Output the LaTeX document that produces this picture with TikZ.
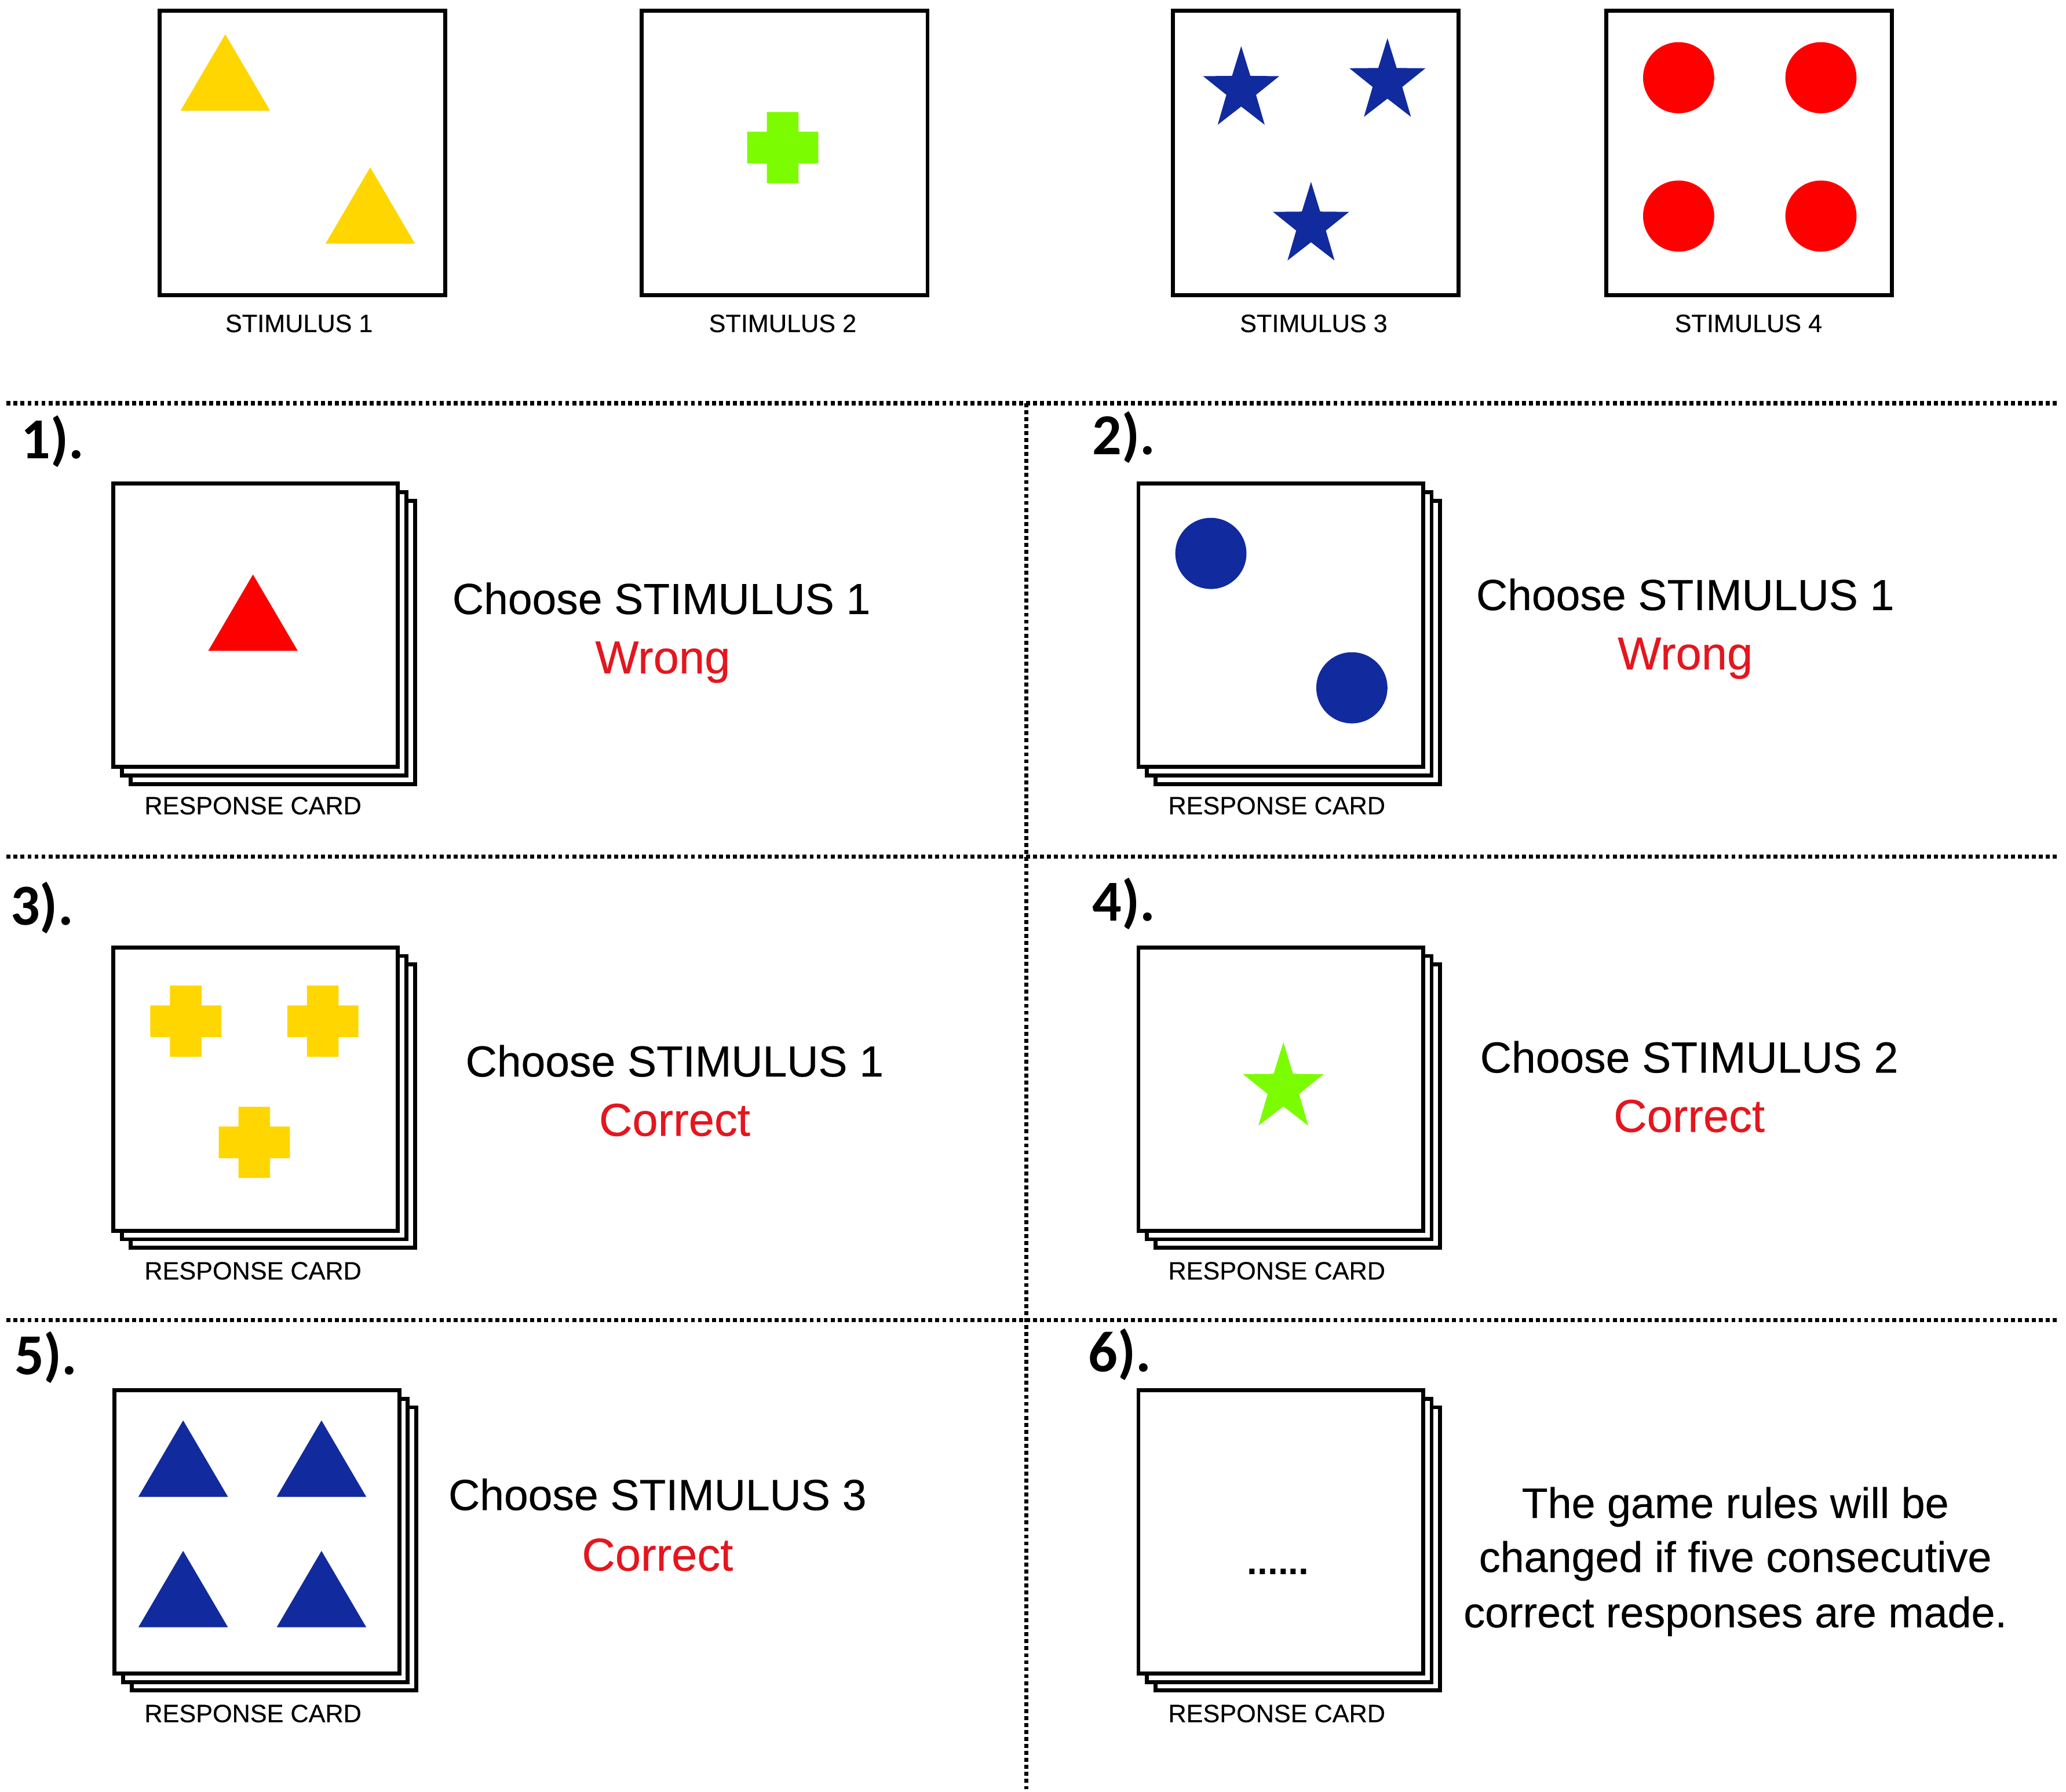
\documentclass[tikz,border=0pt]{standalone}
\usepackage{fontspec}
\setmainfont{Liberation Sans}
\newfontfamily\medsans{Liberation Sans}[FakeBold=0.35]
\newfontfamily\numfont{Carlito}
\definecolor{wcyellow}{RGB}{255,214,0}
\definecolor{wcgreen}{RGB}{124,252,0}
\definecolor{wcblue}{RGB}{17,42,158}
\definecolor{wcred}{RGB}{255,0,0}
\definecolor{verdictred}{RGB}{228,22,30}
\tikzset{
  cardface/.style={fill=white,draw=black,line width=1.5pt},
  divider/.style={draw=black,line width=1.6pt,dash pattern=on 1.5pt off 1.15pt},
  stimlabel/.style={inner sep=0pt,outer sep=0pt,anchor=base,font=\medsans\fontsize{9.5}{11.4}\selectfont},
  choosetext/.style={inner sep=0pt,outer sep=0pt,anchor=base,font=\medsans\fontsize{16.5}{19.8}\selectfont},
  verdict/.style={inner sep=0pt,outer sep=0pt,anchor=base,text=verdictred,font=\medsans\fontsize{17.5}{21}\selectfont},
  ruletext/.style={inner sep=0pt,outer sep=0pt,anchor=base,font=\medsans\fontsize{16.2}{19.4}\selectfont},
  stepno/.style={inner sep=0pt,outer sep=0pt,anchor=base west,font=\numfont\bfseries\fontsize{22}{26.4}\selectfont},
}
\newcommand{\wctri}[3]{\fill[#3] (#1,#2) -- ({#1+34},{#2+58}) -- ({#1-34},{#2+58}) -- cycle;}
\newcommand{\wcplus}[3]{\fill[#3] ({#1-12},{#2-27}) rectangle ({#1+12},{#2+27}) ({#1-27},{#2-12}) rectangle ({#1+27},{#2+12});}
\newcommand{\wcstar}[4]{\fill[#4] (#1,{#2-#3}) \foreach \k in {0,...,4}{ -- ({#1+0.92*0.39*#3*cos(-54+72*\k)},{#2+0.39*#3*sin(-54+72*\k)}) -- ({#1+0.92*#3*cos(-18+72*\k)},{#2+#3*sin(-18+72*\k)})} -- cycle;}
\newcommand{\respstack}[2]{%
  \path[cardface] ({#1+13},{#2+13}) rectangle ++(216,215);
  \path[cardface] ({#1+6.5},{#2+6.5}) rectangle ++(216,215);
  \path[cardface] (#1,#2) rectangle ++(216,215);}
\begin{document}
\begin{tikzpicture}[x=.5pt,y=-.5pt]
\path[use as bounding box,fill=white] (0,0) rectangle (1568,1360);
\path[cardface] (121,8) rectangle ++(217,216);
\wctri{171}{26}{wcyellow}
\wctri{281}{127}{wcyellow}
\node[stimlabel] (stim1) at (227,252) {STIMULUS 1};
\path[cardface] (487,8) rectangle ++(217,216);
\wcplus{594}{112}{wcgreen}
\node[stimlabel] (stim2) at (594,252) {STIMULUS 2};
\path[cardface] (890,8) rectangle ++(217,216);
\wcstar{942}{68}{33}{wcblue}
\wcstar{1053}{62}{33}{wcblue}
\wcstar{995}{171}{33}{wcblue}
\node[stimlabel] (stim3) at (997,252) {STIMULUS 3};
\path[cardface] (1219,8) rectangle ++(217,216);
\fill[wcred] (1274,59) circle (27) (1382,59) circle (27) (1274,164) circle (27) (1382,164) circle (27);
\node[stimlabel] (stim4) at (1327,252) {STIMULUS 4};
\draw[divider] (5,306) -- (1562,306);
\draw[divider] (5,650) -- (1562,650);
\draw[divider] (5,1002) -- (1562,1002);
\draw[divider] (779,306) -- (779,1358);
\node[stepno] (no1) at (16,348) {1).};
\respstack{86}{367}
\wctri{192}{436}{wcred}
\node[stimlabel] (resp1) at (192,618) {RESPONSE CARD};
\node[choosetext] (choose1) at (502,466) {Choose STIMULUS 1};
\node[verdict] (verdict1) at (503,511) {Wrong};
\node[stepno] (no2) at (829,345) {2).};
\respstack{864}{367}
\fill[wcblue] (919,420) circle (27) (1026,522) circle (27);
\node[stimlabel] (resp2) at (969,618) {RESPONSE CARD};
\node[choosetext] (choose2) at (1279,463) {Choose STIMULUS 1};
\node[verdict] (verdict2) at (1279,508) {Wrong};
\node[stepno] (no3) at (8,702) {3).};
\respstack{86}{719}
\wcplus{141}{775}{wcyellow}
\wcplus{245}{775}{wcyellow}
\wcplus{193}{867}{wcyellow}
\node[stimlabel] (resp3) at (192,971) {RESPONSE CARD};
\node[choosetext] (choose3) at (512,817) {Choose STIMULUS 1};
\node[verdict] (verdict3) at (512,862) {Correct};
\node[stepno] (no4) at (829,699) {4).};
\respstack{864}{719}
\wcstar{974}{826}{35}{wcgreen}
\node[stimlabel] (resp4) at (969,971) {RESPONSE CARD};
\node[choosetext] (choose4) at (1282,814) {Choose STIMULUS 2};
\node[verdict] (verdict4) at (1282,859) {Correct};
\node[stepno] (no5) at (11,1043) {5).};
\respstack{87}{1055}
\wctri{139}{1078}{wcblue}
\wctri{244}{1078}{wcblue}
\wctri{139}{1177}{wcblue}
\wctri{244}{1177}{wcblue}
\node[stimlabel] (resp5) at (192,1307) {RESPONSE CARD};
\node[choosetext] (choose5) at (499,1146) {Choose STIMULUS 3};
\node[verdict] (verdict5) at (499,1192) {Correct};
\node[stepno] (no6) at (826,1041) {6).};
\respstack{864}{1055}
\node[inner sep=0pt,outer sep=0pt,font=\bfseries\fontsize{14}{16.8}\selectfont] (more) at (970,1193) {......};
\node[stimlabel] (resp6) at (969,1307) {RESPONSE CARD};
\node[ruletext] (rule1) at (1317,1152) {The game rules will be};
\node[ruletext] (rule2) at (1317,1193) {changed if five consecutive};
\node[ruletext] (rule3) at (1317,1235) {correct responses are made.};
\end{tikzpicture}
\end{document}
